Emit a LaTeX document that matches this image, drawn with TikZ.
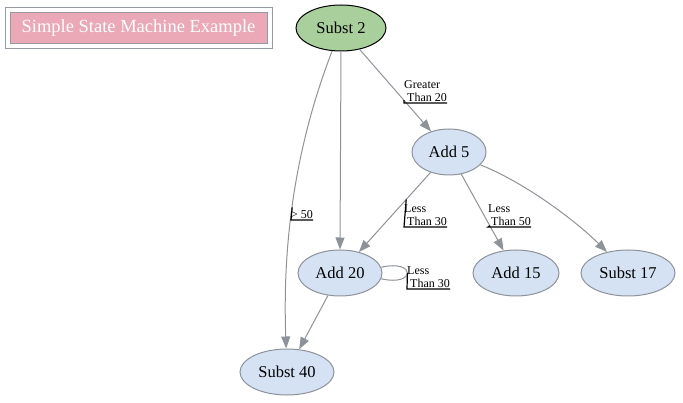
\documentclass[tikz,border=0pt]{standalone}
\usepackage{fontspec}
\setmainfont{Liberation Serif}
\usetikzlibrary{shapes.geometric,arrows.meta,positioning}
\definecolor{startgreen}{HTML}{A9D09C}
\definecolor{stateblue}{HTML}{D4E2F4}
\definecolor{edgegray}{HTML}{8E9299}
\definecolor{titlepink}{HTML}{EBA8B6}
\definecolor{boxgray}{HTML}{969BA2}

\begin{document}
\begin{tikzpicture}[x=1pt,y=-1pt,
		state/.style={ellipse,draw=edgegray,line width=1pt,fill=stateblue,minimum height=46pt,inner sep=0pt,font=\fontsize{16.5}{18}\selectfont},
		start/.style={state,draw=black,fill=startgreen},
		trans/.style={draw=edgegray,line width=1pt,-{Triangle[length=12pt,width=9pt]}},
		elabel/.style={inner xsep=0pt,inner ysep=1pt,align=left,anchor=south west,font=\fontsize{12}{13.5}\selectfont},
		decor/.style={line width=1.2pt}]
		
		\useasboundingbox (0,0) rectangle (683,403);
		
		\node[draw=boxgray,line width=1pt,minimum width=267pt,minimum height=41pt] (titlebox) at (138.5,28.5) {};
		\node[draw=boxgray,line width=1pt,fill=titlepink,text=white,minimum width=257pt,minimum height=31pt,font=\fontsize{18.5}{20}\selectfont] (title) at (titlebox) {Simple State Machine Example};
		
		\node[start,minimum width=90pt] (s2) at (341,28) {Subst 2};
		\node[state,minimum width=74pt] (a5) at (449,152) {Add 5};
		\node[state,minimum width=84pt] (a20) at (340,273) {Add 20};
		\node[state,minimum width=86pt] (a15) at (516,273) {Add 15};
		\node[state,minimum width=94pt] (s17) at (628,273) {Subst 17};
		\node[state,minimum width=94pt] (s40) at (287,372) {Subst 40};
		
		\draw[trans] (s2) -- coordinate[pos=0.62] (m1) (a5);
		\draw[trans] (s2.south) -- (a20.north);
		\draw[trans] (s2) .. controls (290,160) and (283,260) .. coordinate[pos=0.5] (m2) (s40);
		\draw[trans] (a5) -- coordinate[pos=0.34] (m3) (a20);
		\draw[trans] (a5) -- coordinate[pos=0.675] (m4) (a15);
		\draw[trans] (a5) .. controls (530,185) and (580,225) .. (s17);
		\draw[draw=edgegray,line width=1pt] (a20.8) .. controls +(35,-8) and +(35,8) .. coordinate[pos=0.5] (m5) (a20.-8);
		\draw[trans] (a20) -- (s40);
		
		% edge labels
		\node[elabel] (l1) at (404,103) {Greater\\\hspace*{3pt}Than 20};
		\node[elabel] (l2) at (291,220) {> 50};
		\node[elabel] (l3) at (404,227) {Less\\\hspace*{3pt}Than 30};
		\node[elabel] (l4) at (488,227) {Less\\\hspace*{3pt}Than 50};
		\node[elabel] (l5) at (407,289) {Less\\\hspace*{3pt}Than 30};
		
		\draw[decor] (m1) -- (l1.south west) -- (l1.south east);
		\draw[decor] (m2) -- (l2.south west) -- (l2.south east);
		\draw[decor] (m3) -- (l3.south west) -- (l3.south east);
		\draw[decor] (m4) -- (l4.south west) -- (l4.south east);
		\draw[decor] (m5) -- (l5.south west) -- (l5.south east);
		
\end{tikzpicture}
\end{document}
